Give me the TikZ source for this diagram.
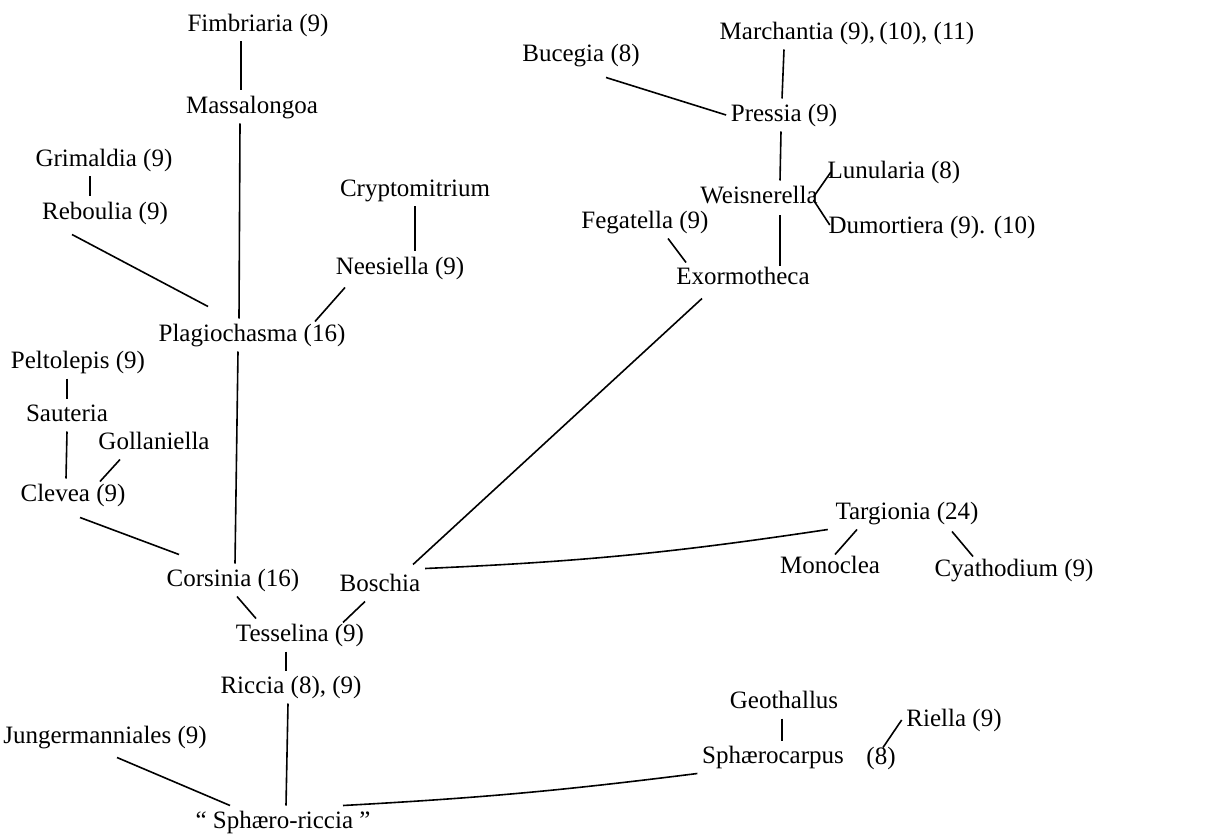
\documentclass[tikz,border=0pt]{standalone}
\usepackage{fontspec}
\setmainfont{Liberation Serif}
\begin{document}
\begin{tikzpicture}[x=0.5pt, y=-0.5pt, line width=0.8pt,
  taxon/.style={font=\fontsize{12.5}{15}\selectfont, inner sep=2pt, text height=9pt, text depth=2.7pt}]
  \useasboundingbox (0,0) rectangle (1231,834);
  % left branch
  \node[taxon] (fimb) at (258,25) {Fimbriaria (9)};
  \node[taxon] (mass) at (252,107) {Massalongoa};
  \node[taxon] (grim) at (104,160) {Grimaldia (9)};
  \node[taxon] (reb) at (105,213) {Reboulia (9)};
  \node[taxon] (crypt) at (415,190) {Cryptomitrium};
  \node[taxon] (nees) at (400,268) {Neesiella (9)};
  \node[taxon] (plag) at (252,335) {Plagiochasma (16)};
  \node[taxon] (pelt) at (78,362) {Peltolepis (9)};
  \node[taxon] (saut) at (67,415) {Sauteria};
  \node[taxon] (goll) at (154,443) {Gollaniella};
  \node[taxon] (clev) at (73,495) {Clevea (9)};
  \node[taxon] (cors) at (233,580) {Corsinia (16)};
  \node[taxon] (bosch) at (380,585) {Boschia};
  \node[taxon] (tess) at (300,635) {Tesselina (9)};
  \node[taxon] (ricc) at (291,687) {Riccia (8), (9)};
  \node[taxon] (jung) at (105,737) {Jungermanniales (9)};
  \node[taxon] (sphr) at (283,822) {“ Sphæro-riccia ”};
  % right branch
  \node[taxon] (buceg) at (581,55) {Bucegia (8)};
  \node[taxon] (march) at (847,33) {Marchantia (9),\,(10), (11)};
  \node[taxon] (press) at (784,115) {Pressia (9)};
  \node[taxon] (weis) at (759,197) {Weisnerella};
  \node[taxon] (lun) at (894,172) {Lunularia (8)};
  \node[taxon] (dum) at (932,227) {Dumortiera (9). (10)};
  \node[taxon] (feg) at (645,222) {Fegatella (9)};
  \node[taxon] (exor) at (743,278) {Exormotheca};
  \node[taxon] (targ) at (907,513) {Targionia (24)};
  \node[taxon] (mono) at (830,567) {Monoclea};
  \node[taxon] (cyath) at (1014,570) {Cyathodium (9)};
  \node[taxon] (geo) at (784,702) {Geothallus};
  \node[taxon] (sphc) at (773,757) {Sphærocarpus};
  \node[taxon] (sphcn) at (881,758) {(8)};
  \node[taxon] (riel) at (954,720) {Riella (9)};
  % connectors, left
  \draw ([shift={(-17,0)}]fimb.south) -- ([shift={(-11,0)}]mass.north);
  \draw ([shift={(-12,0)}]mass.south) -- ([shift={(-13,0)}]plag.north);
  \draw ([shift={(-14,0)}]plag.south) -- ([shift={(2,0)}]cors.north);
  \draw ([shift={(-14,0)}]grim.south) -- ([shift={(-15,0)}]reb.north);
  \draw ([shift={(-33,5)}]reb.south) -- ([shift={(-44,-12)}]plag.north);
  \draw (crypt.south) -- ([shift={(15,0)}]nees.north);
  \draw ([shift={(-55,3)}]nees.south) -- ([shift={(63,3)}]plag.north);
  \draw ([shift={(-11,0)}]pelt.south) -- (saut.north);
  \draw (saut.south) -- ([shift={(-7,0)}]clev.north);
  \draw ([shift={(-34,0)}]goll.south) -- ([shift={(27,3)}]clev.north);
  \draw ([shift={(7,6)}]clev.south) -- ([shift={(-54,-9)}]cors.north);
  \draw ([shift={(4,0)}]cors.south) -- ([shift={(-44,0)}]tess.north);
  \draw ([shift={(-15,0)}]bosch.south) -- ([shift={(43,4)}]tess.north);
  \draw ([shift={(-14,0)}]tess.south) -- ([shift={(-5,0)}]ricc.north);
  \draw ([shift={(-3,0)}]ricc.south) -- ([shift={(3,0)}]sphr.north);
  \draw ([shift={(12,4)}]jung.south) -- ([shift={(-53,0)}]sphr.north);
  \draw ([shift={(60,0)}]sphr.north) to[bend right=2] (sphc.south west);
  % connectors, right
  \draw (bosch.north east) to[bend right=3] ([shift={(-3,0)}]targ.south west);
  \draw ([shift={(33,-4)}]bosch.north) -- ([shift={(-41,4)}]exor.south);
  \draw ([shift={(-50,0)}]targ.south) -- ([shift={(5,4)}]mono.north);
  \draw ([shift={(45,2)}]targ.south) -- ([shift={(-41,3)}]cyath.north);
  \draw ([shift={(-2,0)}]geo.south) -- ([shift={(9,0)}]sphc.north);
  \draw ([shift={(2,6)}]sphcn.north) -- (riel.west);
  \draw ([shift={(25,6)}]buceg.south) -- (press.west);
  \draw ([shift={(-63,0)}]march.south) -- ([shift={(-2,0)}]press.north);
  \draw ([shift={(-3,0)}]press.south) -- ([shift={(21,0)}]weis.north);
  \draw ([shift={(-9,0)}]weis.east) -- ([shift={(8,0)}]lun.west);
  \draw ([shift={(-9,3)}]weis.east) -- ([shift={(6,-2)}]dum.west);
  \draw ([shift={(21,2)}]weis.south) -- ([shift={(37,5)}]exor.north);
  \draw ([shift={(23,0)}]feg.south) -- ([shift={(-57,1)}]exor.north);
\end{tikzpicture}
\end{document}
